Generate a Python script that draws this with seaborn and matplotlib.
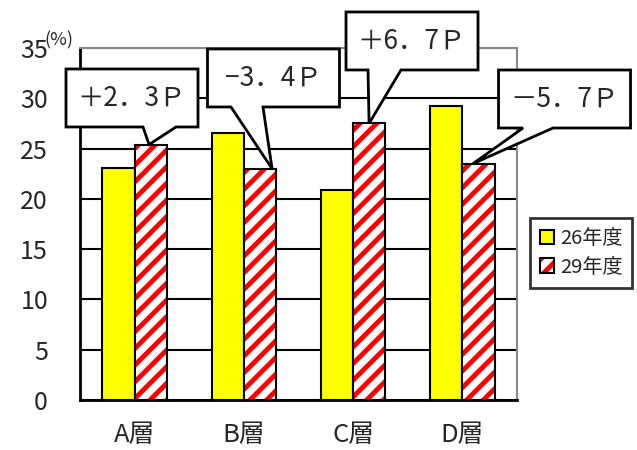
import seaborn as sns
import numpy as np
import pandas as pd
import matplotlib.pyplot as plt
from matplotlib.patches import Patch, Rectangle, Polygon
from matplotlib.transforms import IdentityTransform
from matplotlib.legend_handler import HandlerTuple

sns.set_style("white")
plt.rcParams['font.family'] = ['Noto Sans CJK JP', 'DejaVu Sans']
plt.rcParams['hatch.linewidth'] = 3.5

categories = ["A層", "B層", "C層", "D層"]
years = ["26年度", "29年度"]
values_26 = [23.1, 26.5, 20.9, 29.2]
values_29 = [25.4, 23.0, 27.5, 23.5]
diff_labels = ["＋2．3Ｐ", "−3．4Ｐ", "＋6．7Ｐ", "－5．7Ｐ"]

# long form data for seaborn
df = pd.DataFrame({
    "category": categories * 2,
    "year": [years[0]] * 4 + [years[1]] * 4,
    "value": values_26 + values_29,
})

fig = plt.figure(figsize=(6.37, 4.5), dpi=100)
ax = fig.add_axes([80 / 637, 50 / 450, 437 / 637, 352 / 450])

sns.barplot(data=df, x="category", y="value", hue="year", order=categories,
            hue_order=years, palette=["#FFFF00", "white"], width=0.59,
            saturation=1, edgecolor="black", linewidth=1.5, legend=False,
            ax=ax, zorder=3)

# hatch the 29 bars: red stripes, then a black outline on top
bars_29 = ax.patches[4:8]
for b in bars_29:
    b.set_hatch("//")
    b.set_edgecolor("red")
    b.set_linewidth(0)
    ax.add_patch(Rectangle(b.get_xy(), b.get_width(), b.get_height(),
                           fill=False, ec="black", lw=1.5, zorder=4))

ax.set_ylim(0, 35)
ax.set_xlim(-0.5, 3.5)
ax.set_yticks(range(0, 36, 5))
ax.set_xlabel("")
ax.set_ylabel("")
ax.grid(axis="y", color="black", lw=1.5, zorder=1)
ax.set_axisbelow(True)

for s in ["top", "right"]:
    ax.spines[s].set_color("#888888")
    ax.spines[s].set_linewidth(1.5)
for s in ["left", "bottom"]:
    ax.spines[s].set_color("black")
    ax.spines[s].set_linewidth(2)

ax.tick_params(axis="y", direction="in", length=8, width=1.5, pad=23, labelsize=18)
ax.tick_params(axis="x", which="major", length=0, pad=16, labelsize=18.5)
ax.set_xticks([0.5, 1.5, 2.5], minor=True)
ax.tick_params(axis="x", which="minor", direction="in", length=6, width=1.5)

ax.text(-0.082, 0.995, "(%)", transform=ax.transAxes, fontsize=13,
        ha="left", va="bottom")

# callouts: box centre (data), pointer base offsets (px from centre), tip x (data)
box_center = [(-0.024, 30.03), (1.271, 32.02), (2.539, 35.70), (3.935, 29.93)]
box_w, box_h = 132, 58
pointer_base = [(11, 44), (-42.5, -10.5), (-44, -11), (-41.5, -11.5)]
tip_x = [0.132, 1.258, 2.146, 3.097]

for lab, c, pb, tx, v in zip(diff_labels, box_center, pointer_base, tip_x, values_29):
    cx, cy = ax.transData.transform(c)
    tipx, tipy = ax.transData.transform((tx, v))
    l, r = cx - box_w / 2, cx + box_w / 2
    t, btm = cy + box_h / 2, cy - box_h / 2
    verts = [(l, t), (r, t), (r, btm), (cx + pb[1], btm), (tipx, tipy),
             (cx + pb[0], btm), (l, btm)]
    ax.add_patch(Polygon(verts, closed=True, fc="white", ec="black", lw=2,
                         joinstyle="miter", transform=IdentityTransform(),
                         clip_on=False, zorder=6))
    ax.text(c[0], c[1], lab, ha="center", va="center", fontsize=19, zorder=7)

handles = [Patch(fc="#FFFF00", ec="black", lw=1.5),
           (Patch(fc="white", ec="red", hatch="//", lw=0),
            Patch(fill=False, ec="black", lw=1.5))]
leg = fig.legend(handles, years, loc="center", bbox_to_anchor=(581 / 637, 1 - 253 / 450),
                 handler_map={tuple: HandlerTuple(ndivide=1, pad=0)},
                 fontsize=14.5, frameon=True, fancybox=False, handlelength=0.7,
                 handleheight=0.7, handletextpad=0.3, borderpad=0.5, labelspacing=0.35,
                 borderaxespad=0)
leg.get_frame().set_edgecolor("black")
leg.get_frame().set_linewidth(2)

fig.savefig("out.png", dpi=100)
